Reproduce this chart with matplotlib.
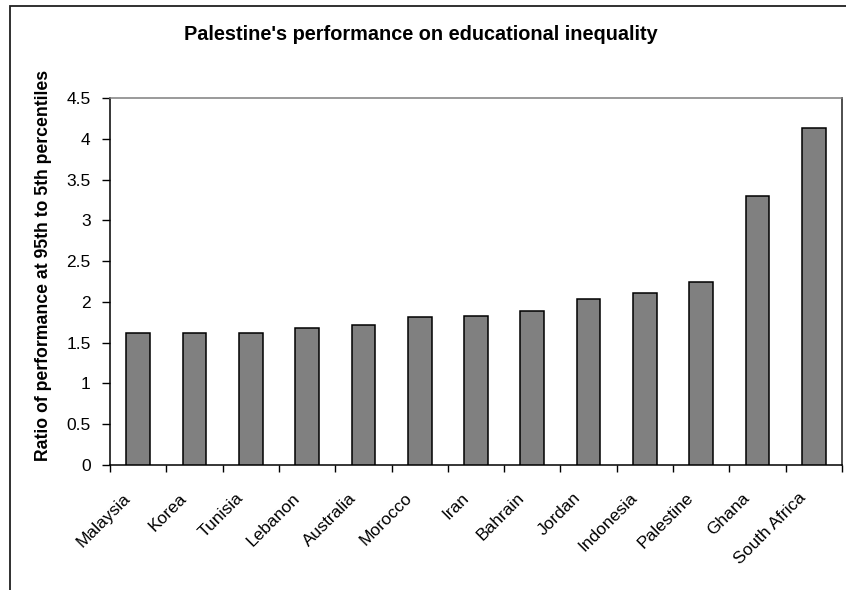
import matplotlib
matplotlib.use("Agg")
import matplotlib.pyplot as plt
from matplotlib.patches import Rectangle
import matplotlib.transforms as mtransforms

countries = ["Malaysia", "Korea", "Tunisia", "Lebanon", "Australia", "Morocco", "Iran",
             "Bahrain", "Jordan", "Indonesia", "Palestine", "Ghana", "South Africa"]
ratios = [1.62, 1.62, 1.62, 1.68, 1.72, 1.82, 1.83, 1.89, 2.03, 2.11, 2.24, 3.30, 4.13]
yticks = [0, 0.5, 1, 1.5, 2, 2.5, 3, 3.5, 4, 4.5]
ytick_labels = ["0", "0.5", "1", "1.5", "2", "2.5", "3", "3.5", "4", "4.5"]

plt.rcParams['font.family'] = ['Liberation Sans', 'DejaVu Sans']

W, H = 846, 590
fig = plt.figure(figsize=(W / 100, H / 100), dpi=100)
fig.patch.set_facecolor('white')

# chart-area border
fig.patches.append(Rectangle((9.5 / W, -0.1), 1.2, 1.1 - 5.5 / H, transform=fig.transFigure,
                             fill=False, edgecolor='#202020', linewidth=1.3, zorder=0))

ax = fig.add_axes([110 / W, 1 - 465 / H, (842 - 110) / W, (465 - 98) / H])
x = list(range(len(countries)))
ax.bar(x, ratios, width=0.42, color='#808080', edgecolor='black', linewidth=1.1, zorder=3)

ax.set_xlim(-0.5, len(countries) - 0.5)
ax.set_ylim(0, 4.5)
ax.set_yticks(yticks)
ax.set_yticklabels(ytick_labels, fontsize=12.5)
ax.tick_params(axis='y', direction='out', length=6, width=1, pad=8, color='black')

ax.set_xticks(x)
ax.set_xticklabels(countries, fontsize=12.5, rotation=45, ha='right', va='center',
                   rotation_mode='anchor')
ax.set_xticks([i - 0.5 for i in range(len(countries) + 1)], minor=True)
ax.tick_params(axis='x', which='major', length=0, pad=22)
ax.tick_params(axis='x', which='minor', direction='out', length=5, width=1, color='black')
offset = mtransforms.ScaledTranslation(-10 / 100, 0, fig.dpi_scale_trans)
for lbl in ax.get_xticklabels():
    lbl.set_transform(lbl.get_transform() + offset)

for side in ['left', 'bottom']:
    ax.spines[side].set_color('black')
    ax.spines[side].set_linewidth(1.1)
ax.spines['top'].set_color('#7f7f7f')
ax.spines['top'].set_linewidth(1.1)
ax.spines['right'].set_color('#404040')
ax.spines['right'].set_linewidth(1.3)

fig.text(421 / W, 1 - 34 / H, "Palestine's performance on educational inequality",
         ha='center', va='center', fontsize=14.3, fontweight='bold')
fig.text(44 / W, 1 - 265 / H, "Ratio of performance at 95th to 5th percentiles",
         ha='center', va='center', rotation=90, fontsize=12.7, fontweight='bold')

fig.savefig("out.png", dpi=100)
